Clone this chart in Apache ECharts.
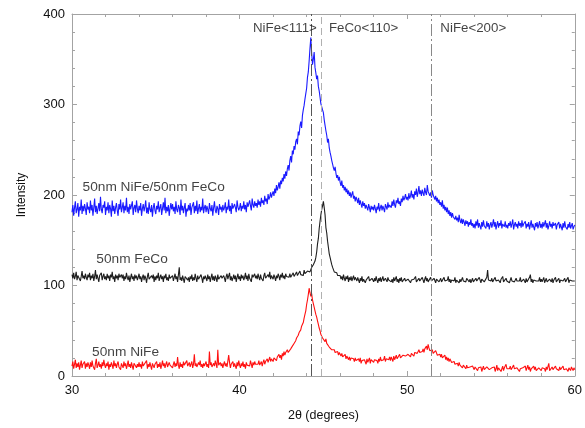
<!DOCTYPE html>
<html>
<head>
<meta charset="utf-8">
<script src="https://cdn.jsdelivr.net/npm/echarts@6/dist/echarts.min.js"></script>
<style>
html,body{margin:0;padding:0;background:#fff;}
#chart{width:585px;height:428px;}
</style>
</head>
<body>
<div id="chart"></div>
<script>
// 2θ sampling grid: 30.00 .. 60.00 in 0.05° steps
const twoThetaStart = 30;
const twoThetaStep = 0.05;

const nifeFecoIntensity = [
181,189,177,186,193,180,184,191,176,187,183,195,179,188,182,190,185,178,192,184,
187,180,194,183,189,177,186,196,181,188,179,185,191,182,198,184,180,189,186,193,
178,187,183,192,180,189,185,176,194,182,188,179,186,191,183,177,190,184,195,181,
186,192,180,188,183,197,181,187,179,190,184,182,193,178,186,189,181,194,185,180,
188,183,191,177,185,190,182,187,194,180,186,179,192,184,181,189,176,186,191,183,
179,188,184,193,181,186,190,178,185,192,183,197,180,187,182,189,177,185,191,184,
190,182,187,179,193,184,181,189,186,178,195,183,188,180,186,191,176,185,182,189,
183,191,178,186,184,192,180,188,182,194,179,185,190,181,187,183,196,180,186,189,
181,188,184,179,191,185,182,189,177,186,193,183,180,188,185,178,190,184,187,181,
189,183,186,192,180,187,184,195,182,188,179,191,185,183,190,186,181,194,187,183,
186,191,182,188,185,193,184,189,181,192,187,185,194,188,183,196,189,186,193,188,
191,186,195,189,193,187,197,191,194,189,199,193,196,190,201,195,198,203,197,201,
204,199,207,202,211,205,209,214,207,216,212,219,215,223,218,226,221,229,233,227,
238,243,236,249,245,254,250,259,262,256,270,266,276,281,274,288,294,299,306,312,
318,330,336,348,362,374,357,344,350,358,341,335,328,332,320,315,308,301,299,294,
291,283,277,271,266,258,262,252,247,243,238,234,230,227,231,224,219,222,216,220,
214,210,216,208,211,205,209,203,207,201,205,199,203,197,201,204,196,199,193,198,
195,191,197,189,194,190,186,193,188,191,185,189,187,183,190,186,181,188,184,187,
183,189,185,180,187,184,191,182,186,189,183,188,185,181,190,187,184,192,186,189,
191,186,193,188,195,189,186,194,191,197,190,193,188,196,192,199,194,197,201,195,
198,194,202,196,199,205,197,201,195,204,200,207,198,203,210,201,205,199,206,202,
199,208,203,200,211,204,206,199,203,197,205,200,202,195,199,193,197,191,195,189,
192,187,194,185,189,183,187,181,186,179,183,177,181,175,180,176,178,173,177,172,
175,170,178,172,169,174,168,173,170,166,172,168,171,165,170,167,173,166,169,164,
168,163,171,166,173,164,169,167,162,170,165,172,166,168,163,171,165,169,162,167,
170,164,168,173,165,170,162,167,171,164,169,166,172,163,168,170,165,171,164,167,
163,169,166,171,164,168,173,162,167,170,165,168,163,171,166,169,164,172,165,168,
166,171,163,168,165,170,162,167,172,164,168,166,161,169,165,170,163,167,171,164,
168,163,170,165,167,172,164,169,162,166,171,165,168,163,170,166,164,169,162,167,
165,170,163,168,166,161,169,164,171,165,167,162,168,164,170,163,166,169,162,165,
167];

const fecoIntensity = [
112,108,114,107,110,115,106,111,109,113,105,110,116,108,111,107,113,109,106,112,
109,114,106,111,108,113,105,110,117,107,112,108,104,111,109,114,106,110,113,107,
110,106,113,108,111,105,112,109,115,107,110,104,112,108,111,106,113,109,107,112,
108,112,105,110,107,114,109,106,111,104,109,113,107,110,105,112,108,111,106,109,
113,107,110,104,109,112,106,111,108,103,110,114,107,109,105,111,108,112,104,110,
106,111,108,114,105,109,112,107,110,104,111,108,113,106,109,105,112,108,110,107,
111,105,109,113,107,110,104,112,120,106,109,105,111,107,103,110,108,112,106,109,
104,110,107,112,105,109,106,113,108,104,111,107,109,105,112,108,103,110,107,111,
108,105,112,107,110,104,109,113,106,110,105,111,108,104,112,107,109,105,111,108,
106,111,108,104,110,113,107,109,114,106,110,105,108,112,107,111,104,109,113,107,
110,105,112,108,111,106,109,114,107,111,105,113,108,110,104,112,109,107,113,108,
111,107,113,109,106,112,108,110,105,111,114,108,110,106,112,109,115,107,111,109,
107,112,109,105,111,108,113,110,106,112,109,114,108,111,107,113,110,108,112,109,
113,109,111,107,114,110,112,108,115,111,113,109,116,112,110,114,111,117,113,115,
112,116,114,118,115,117,120,118,123,121,127,131,137,146,152,163,171,178,184,188,
193,186,178,164,158,149,142,135,131,127,123,120,118,115,117,113,114,111,112,109,
111,107,110,106,112,108,105,110,107,111,104,109,106,110,105,108,111,106,109,107,
105,109,106,103,108,105,110,104,107,109,103,106,108,104,110,105,107,103,108,106,
104,108,105,110,106,103,108,105,109,104,107,110,105,103,108,106,104,109,106,105,
108,104,107,103,109,105,106,110,104,107,103,108,105,109,104,106,103,108,105,107,
104,107,105,109,103,106,108,104,107,105,110,104,106,103,108,105,107,104,109,106,
103,107,110,105,108,104,106,103,109,105,107,104,108,106,103,107,105,109,104,106,
108,104,106,103,109,105,107,104,106,110,104,107,103,106,108,104,105,109,103,106,
105,108,103,107,104,106,109,105,103,107,104,108,106,110,104,107,103,105,108,104,
106,103,108,105,107,104,109,106,103,107,105,108,104,106,103,109,117,106,104,107,
105,108,104,106,103,109,105,107,104,106,108,103,107,105,110,104,106,103,108,105,
104,107,103,106,109,105,103,107,104,106,108,105,103,107,105,109,104,106,103,107,
106,103,108,104,106,105,109,112,104,107,103,106,108,104,105,103,107,105,109,104,
107,104,106,109,103,105,108,104,106,103,107,105,104,108,103,106,105,109,104,106,
105,108,103,106,104,107,105,103,108,104,106,105,109,103,106,104,107,105,103,106,
105];

const nifeIntensity = [
11,16,8,13,18,9,14,10,15,7,12,17,9,13,11,16,8,14,10,15,
12,8,15,10,17,11,13,7,14,19,9,12,16,10,13,8,15,11,18,12,
9,14,11,16,7,13,10,15,12,8,17,11,14,9,13,16,10,12,7,14,
13,9,16,11,14,8,12,17,10,13,9,15,11,7,14,12,16,9,13,10,
15,10,13,8,16,11,9,14,12,17,8,13,10,15,11,7,14,12,9,13,
11,16,9,13,10,15,8,12,17,11,14,9,13,16,10,8,15,12,11,14,
9,13,16,10,14,11,21,12,8,15,10,13,9,16,12,14,10,17,11,13,
15,10,12,16,9,13,24,11,14,10,8,15,12,17,10,13,9,14,11,12,
16,10,13,9,27,12,15,10,8,14,11,17,13,9,29,12,10,15,11,14,
9,13,16,11,14,10,12,23,15,9,13,11,16,10,14,12,8,15,11,17,
12,9,14,11,16,10,13,8,15,12,10,14,11,17,13,9,15,12,16,13,
11,15,13,17,12,14,16,11,15,18,13,16,14,19,15,17,21,16,19,17,
16,20,18,22,17,21,19,24,20,23,18,25,22,27,23,26,24,29,26,28,
26,30,28,33,31,36,34,39,42,40,45,48,46,51,55,53,59,64,68,72,
79,84,90,97,92,88,91,84,80,76,72,68,65,61,57,53,50,46,44,42,
43,40,38,41,36,34,37,32,31,33,29,30,27,29,26,28,25,27,23,26,
24,22,25,21,23,20,24,19,22,20,18,21,17,20,22,18,19,16,20,17,
18,15,19,16,20,14,17,19,15,18,16,13,19,15,17,20,14,18,16,19,
15,18,16,20,17,14,19,16,21,17,15,19,18,22,16,19,17,20,18,21,
17,21,19,16,22,18,20,23,19,21,18,24,20,22,19,23,21,25,22,24,
20,24,22,26,21,25,23,27,22,26,24,28,25,23,29,26,24,28,27,30,
26,30,28,33,29,35,31,28,30,26,29,25,27,24,28,26,23,25,22,24,
21,24,20,22,19,23,18,21,17,20,16,19,18,15,17,14,16,13,15,12,
14,11,15,12,10,13,9,12,14,10,8,12,9,11,7,10,12,8,11,9,
7,10,8,12,6,9,11,7,10,5,8,11,7,9,6,10,8,12,7,9,
6,9,11,7,10,5,8,12,6,9,7,10,5,8,11,6,9,7,13,8,
10,6,8,11,7,9,5,12,8,10,6,9,7,11,5,8,10,6,9,7,
8,11,6,9,12,7,10,5,8,6,9,11,7,10,6,8,5,9,7,10,
6,9,7,11,8,5,10,7,9,14,6,8,5,10,7,9,6,11,8,7,
9,6,10,7,8,5,11,7,9,6,8,10,5,9,7,6,10,8,6,9,
7];

// reflection reference lines
const peakNames = ['NiFe<111>', 'FeCo<110>', 'NiFe<200>'];
const peakPositions = [44.28, 44.87, 51.41];
const peakLabelX = [40.8, 45.33, 51.98];
const peakLabelY = 384;

// sample labels
const sampleNames = ['50nm NiFe/50nm FeCo', '50nm FeCo', '50nm NiFe'];
const sampleLabelX = [30.63, 31.45, 31.2];
const sampleLabelY = [209, 129.5, 26.5];

const xTicks = [30, 40, 50, 60];
const yTicks = [0, 100, 200, 300, 400];

function pairs(values) {
  return values.map((v, i) => [+(twoThetaStart + i * twoThetaStep).toFixed(2), v]);
}

const axisGrey = '#a3a3a3';
const textColor = '#111111';
const font = 'Liberation Sans, Arial, sans-serif';

const annotations = [];
peakNames.forEach((n, i) => annotations.push({ name: n, value: [peakLabelX[i], peakLabelY], label: { fontSize: 13.3 } }));
sampleNames.forEach((n, i) => annotations.push({ name: n, value: [sampleLabelX[i], sampleLabelY[i]], label: { fontSize: 13.7 } }));

const lineStyles = [
  { type: [12, 3, 2, 3], color: '#555555', width: 1 },
  { type: [7, 4], color: '#b0b0b0', width: 1 },
  { type: [12, 3, 2, 3], color: '#888888', width: 1 }
];

const chart = echarts.init(document.getElementById('chart'), null, { renderer: 'canvas' });
const frameAxisX = {
  type: 'value', min: xTicks[0], max: xTicks[xTicks.length - 1], interval: 10,
  axisLine: { show: true, onZero: false, lineStyle: { color: axisGrey, width: 1 } },
  axisTick: { show: true, inside: true, length: 5, lineStyle: { color: axisGrey } },
  minorTick: { show: true, splitNumber: 5, length: 3, lineStyle: { color: axisGrey } },
  splitLine: { show: false }
};
const frameAxisY = {
  type: 'value', min: yTicks[0], max: yTicks[yTicks.length - 1], interval: 100,
  axisLine: { show: true, onZero: false, lineStyle: { color: axisGrey, width: 1 } },
  axisTick: { show: true, inside: true, length: 5, lineStyle: { color: axisGrey } },
  minorTick: { show: true, splitNumber: 5, length: 3, lineStyle: { color: axisGrey } },
  splitLine: { show: false }
};

chart.setOption({
  animation: false,
  backgroundColor: '#ffffff',
  grid: { left: 72, right: 4, top: 14, bottom: 52, containLabel: false },
  xAxis: [
    Object.assign({}, frameAxisX, {
      position: 'bottom',
      name: '2θ (degrees)', nameLocation: 'middle', nameGap: 33,
      nameTextStyle: { fontSize: 12.5, color: textColor, fontFamily: font },
      axisLabel: { show: true, fontSize: 13, color: textColor, margin: 8, fontFamily: font }
    }),
    Object.assign({}, frameAxisX, { position: 'top', axisLabel: { show: false } })
  ],
  yAxis: [
    Object.assign({}, frameAxisY, {
      position: 'left',
      name: 'Intensity', nameLocation: 'middle', nameGap: 44, nameRotate: 90,
      nameTextStyle: { fontSize: 12, color: textColor, fontFamily: font },
      axisLabel: { show: true, fontSize: 13, color: textColor, margin: 7, fontFamily: font }
    }),
    Object.assign({}, frameAxisY, { position: 'right', axisLabel: { show: false } })
  ],
  series: [
    {
      name: '50nm NiFe', type: 'line', data: pairs(nifeIntensity),
      showSymbol: false, symbol: 'none',
      lineStyle: { color: '#ff1010', width: 1.1 },
      markLine: {
        silent: true, symbol: 'none', label: { show: false },
        data: peakPositions.map((p, i) => ({ xAxis: p, lineStyle: lineStyles[i] }))
      },
      z: 2
    },
    {
      name: '50nm FeCo', type: 'line', data: pairs(fecoIntensity),
      showSymbol: false, symbol: 'none',
      lineStyle: { color: '#1e1e1e', width: 1.1 }, z: 3
    },
    {
      name: '50nm NiFe/50nm FeCo', type: 'line', data: pairs(nifeFecoIntensity),
      showSymbol: false, symbol: 'none',
      lineStyle: { color: '#1a1aff', width: 1.1 }, z: 4
    },
    {
      name: 'labels', type: 'scatter', data: annotations,
      symbolSize: 0, silent: true, z: 5,
      label: {
        show: true, position: 'right', distance: 0,
        formatter: p => p.name, color: textColor, fontFamily: font
      }
    }
  ]
});
</script>
</body>
</html>
